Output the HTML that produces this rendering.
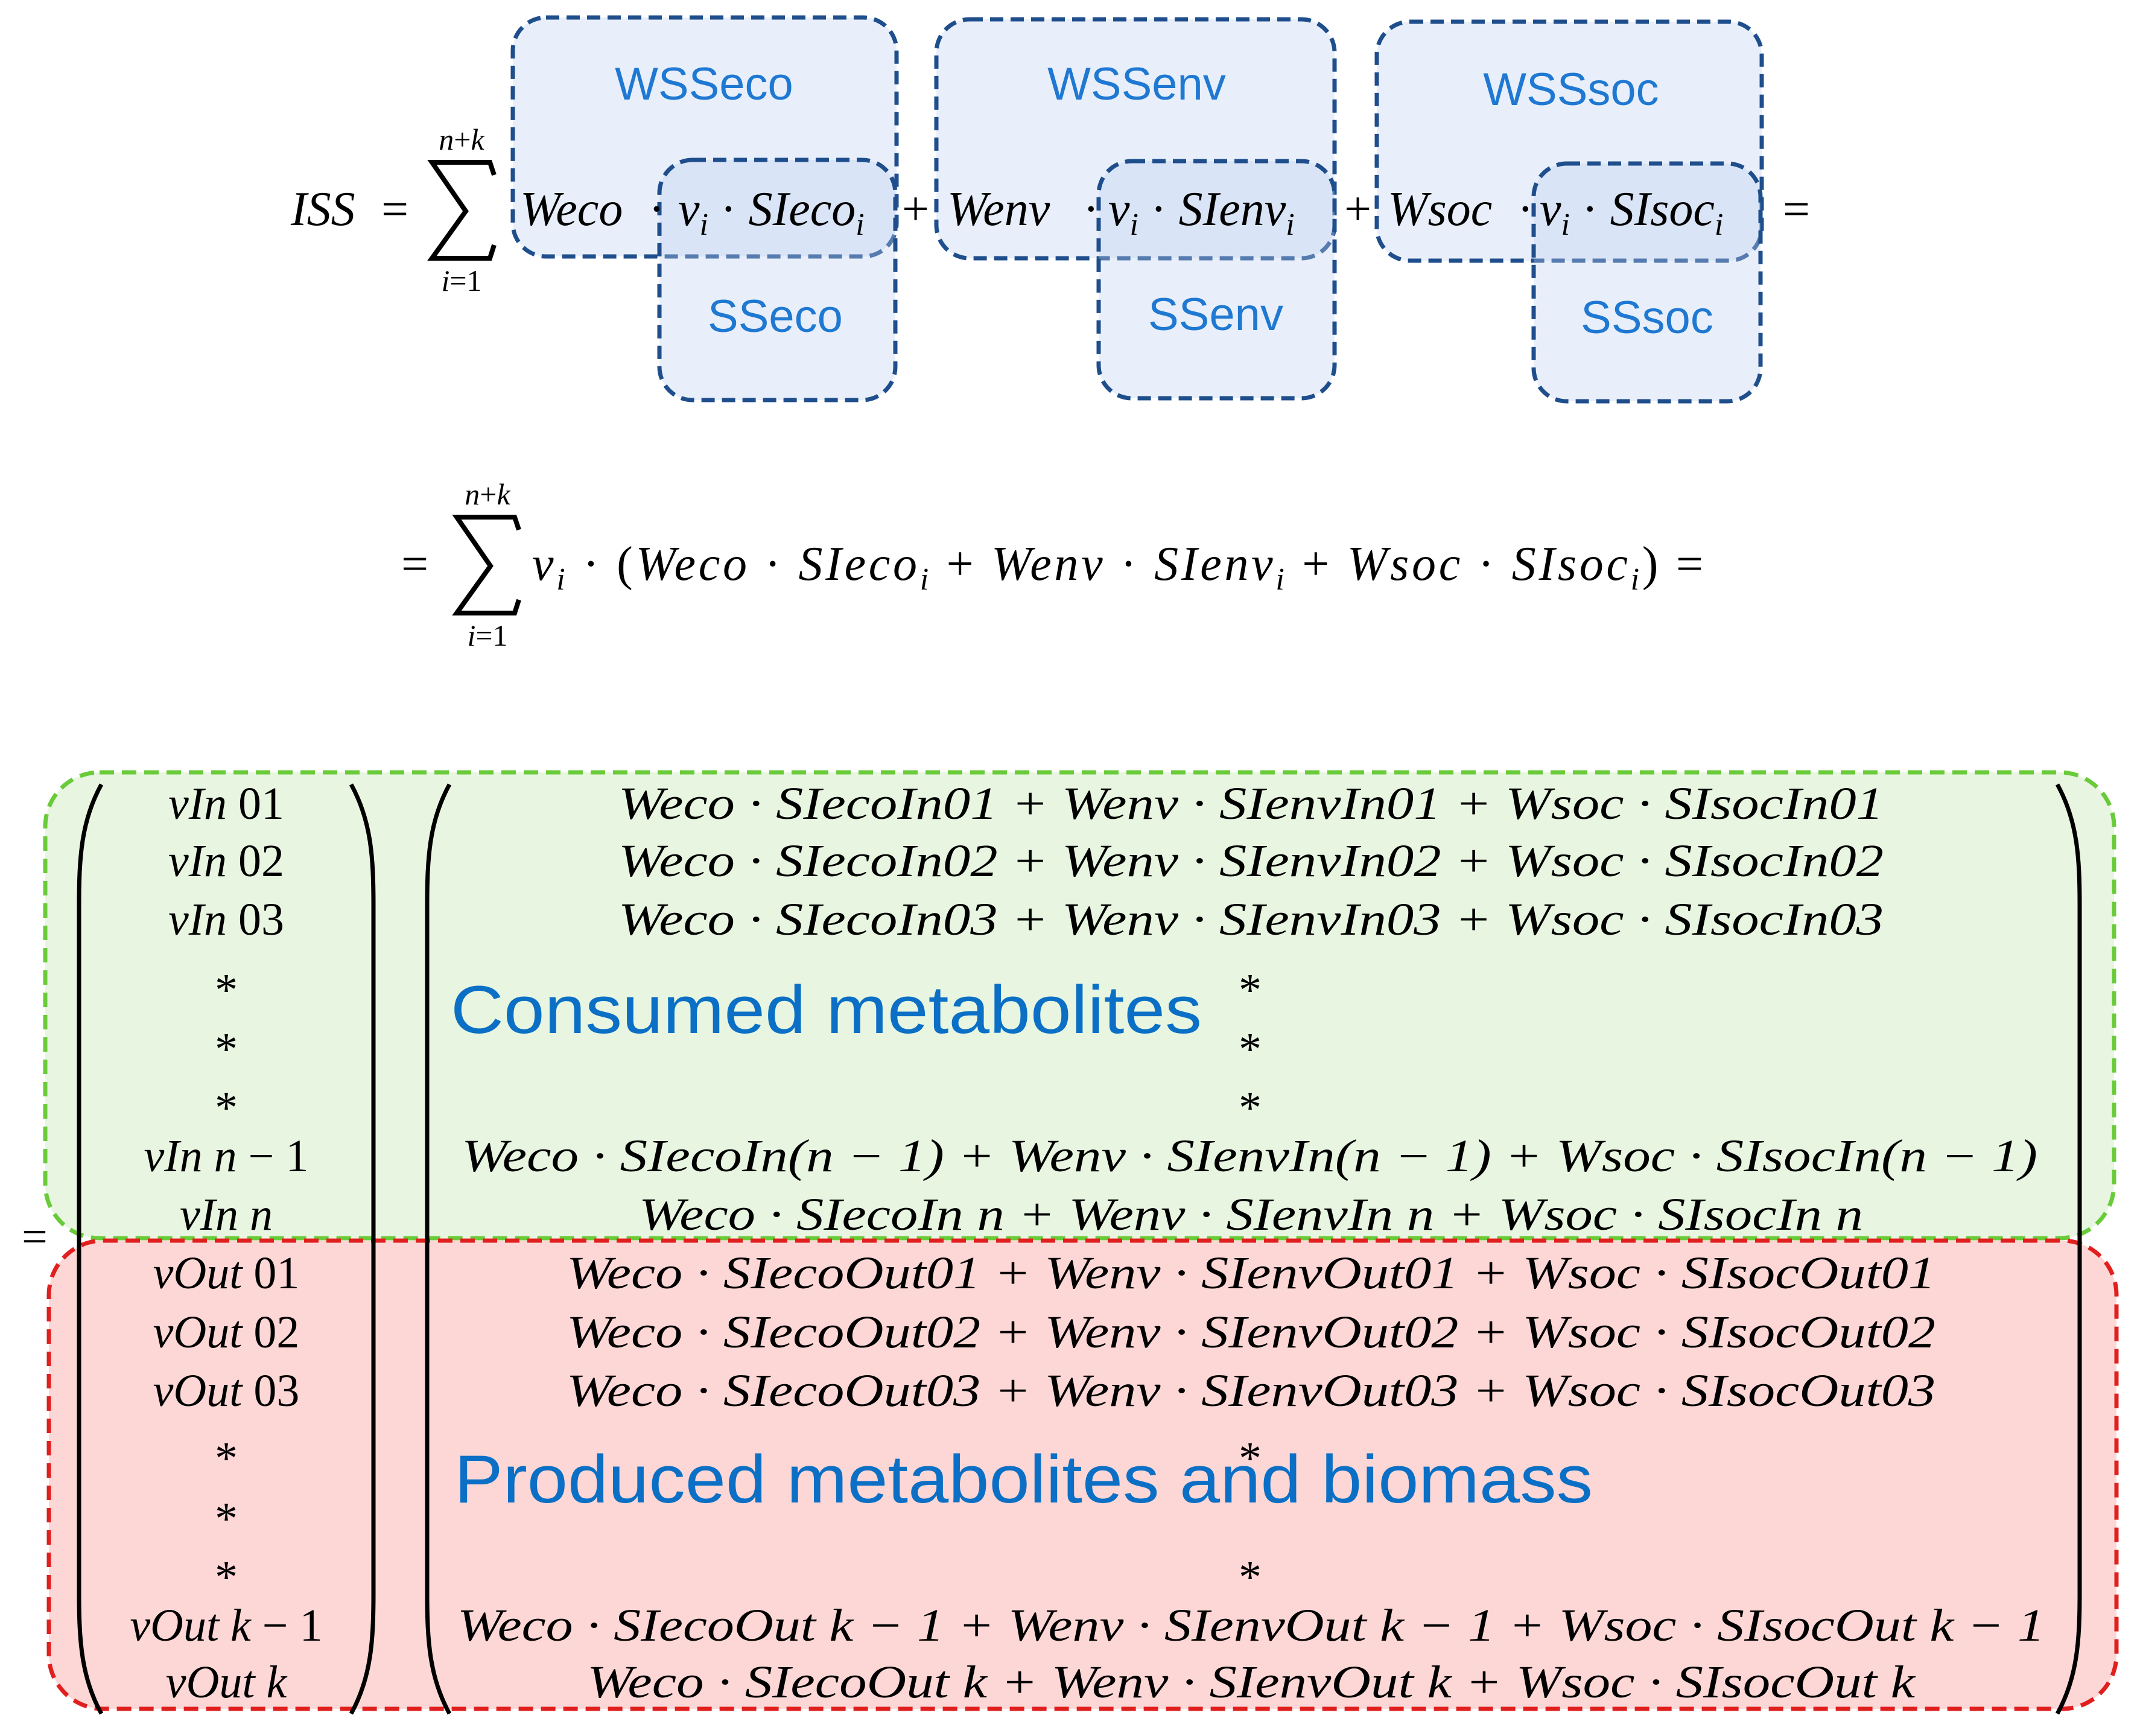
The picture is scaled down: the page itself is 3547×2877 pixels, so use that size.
<!DOCTYPE html>
<html><head><meta charset="utf-8"><style>
html,body{margin:0;padding:0;background:#fff}
svg{display:block}
.m{font-family:"Liberation Serif",serif;font-style:italic;fill:#000}
.u{font-family:"Liberation Serif",serif;fill:#000}
.lab{font-family:"Liberation Sans",sans-serif;fill:#1f78d1}
</style></head><body>
<svg width="3547" height="2877" viewBox="0 0 3547 2877" xmlns="http://www.w3.org/2000/svg">
<g fill="rgba(190,208,242,0.35)" stroke="#1f4e8c" stroke-width="7" stroke-dasharray="22 12">
<rect x="850" y="29" width="636" height="396" rx="55"/>
<rect x="1093" y="265" width="391" height="398" rx="55"/>
<rect x="1552" y="32" width="660" height="396" rx="55"/>
<rect x="1821" y="267" width="391" height="393" rx="55"/>
<rect x="2282" y="36" width="638" height="396" rx="55"/>
<rect x="2542" y="271" width="376" height="394" rx="55"/>
</g>
<g class="lab" font-size="76" text-anchor="middle">
<text x="1167" y="165">WSSeco</text>
<text x="1285" y="550">SSeco</text>
<text x="1884" y="165">WSSenv</text>
<text x="2015" y="547">SSenv</text>
<text x="2604" y="174">WSSsoc</text>
<text x="2730" y="552">SSsoc</text>
</g>
<!-- sigma shapes -->
<g fill="none" stroke="#000" stroke-width="8" stroke-linejoin="miter">
<path d="M819 290 L812 269 L716 269 L772 350 L716 428 L812 428 L819 406"/>
<path d="M860 878 L853 857 L757 857 L813 938 L757 1016 L853 1016 L860 994"/>
</g>
<!-- equation 1 -->
<g font-size="80">
<text class="m" x="482" y="373">ISS</text>
<text class="u" x="632" y="373">=</text>
<text class="m" x="765" y="248" font-size="50" text-anchor="middle">n<tspan font-style="normal">+</tspan>k</text>
<text class="m" x="765" y="482" font-size="50" text-anchor="middle">i<tspan font-style="normal">=1</tspan></text>
<text class="m" x="862" y="373">Weco</text>
<text class="u" x="1075" y="373">·</text>
<text class="m" x="1124" y="373">v<tspan font-size="52" dy="16">i</tspan><tspan dy="-16" font-style="normal"> · </tspan>SIeco<tspan font-size="52" dy="16">i</tspan></text>
<text class="u" x="1495" y="373">+</text>
<text class="m" x="1570" y="373">Wenv</text>
<text class="u" x="1795" y="373">·</text>
<text class="m" x="1837" y="373">v<tspan font-size="52" dy="16">i</tspan><tspan dy="-16" font-style="normal"> · </tspan>SIenv<tspan font-size="52" dy="16">i</tspan></text>
<text class="u" x="2228" y="373">+</text>
<text class="m" x="2300" y="373">Wsoc</text>
<text class="u" x="2515" y="373">·</text>
<text class="m" x="2552" y="373">v<tspan font-size="52" dy="16">i</tspan><tspan dy="-16" font-style="normal"> · </tspan>SIsoc<tspan font-size="52" dy="16">i</tspan></text>
<text class="u" x="2955" y="373">=</text>
</g>
<!-- equation 2 -->
<g font-size="80">
<text class="u" x="665" y="961">=</text>
<text class="m" x="808" y="836" font-size="50" text-anchor="middle">n<tspan font-style="normal">+</tspan>k</text>
<text class="m" x="808" y="1070" font-size="50" text-anchor="middle">i<tspan font-style="normal">=1</tspan></text>
<text class="m" x="882" y="961" textLength="1941" lengthAdjust="spacing">v<tspan font-size="52" dy="16">i</tspan><tspan dy="-16" font-style="normal"> · (</tspan>Weco<tspan font-style="normal"> · </tspan>SIeco<tspan font-size="52" dy="16">i</tspan><tspan dy="-16" font-style="normal"> + </tspan>Wenv<tspan font-style="normal"> · </tspan>SIenv<tspan font-size="52" dy="16">i</tspan><tspan dy="-16" font-style="normal"> + </tspan>Wsoc<tspan font-style="normal"> · </tspan>SIsoc<tspan font-size="52" dy="16">i</tspan><tspan dy="-16" font-style="normal">) =</tspan></text>
</g>
<!-- boxes -->
<rect x="75" y="1280" width="3429" height="772" rx="90" fill="#e8f6e1" stroke="#6acb3a" stroke-width="7" stroke-dasharray="24 13"/>
<rect x="81" y="2056" width="3427" height="776" rx="90" fill="#fdd7d6" stroke="#e0201e" stroke-width="7" stroke-dasharray="24 13"/>
<!-- parens -->
<g fill="none" stroke="#000" stroke-width="7">
<path d="M168 1300 C135 1360 131 1420 131 1500 L131 2640 C131 2720 135 2780 168 2840"/>
<path d="M582 1300 C615 1360 619 1420 619 1500 L619 2640 C619 2720 615 2780 582 2840"/>
<path d="M745 1300 C712 1360 708 1420 708 1500 L708 2640 C708 2720 712 2780 745 2840"/>
<path d="M3410 1300 C3443 1360 3447 1420 3447 1500 L3447 2640 C3447 2720 3443 2780 3410 2840"/>
</g>
<text class="u" x="36" y="2075" font-size="76">=</text>
<g class="lab" font-size="112">
<text x="747" y="1712" textLength="1245" lengthAdjust="spacingAndGlyphs" style="fill:#0b70c5">Consumed metabolites</text>
<text x="753" y="2490" textLength="1887" lengthAdjust="spacingAndGlyphs" style="fill:#0b70c5">Produced metabolites and biomass</text>
</g>
<!-- left column -->
<g class="m" font-size="76" text-anchor="middle">
<text x="375" y="1357">vIn <tspan font-style="normal">01</tspan></text>
<text x="375" y="1452">vIn <tspan font-style="normal">02</tspan></text>
<text x="375" y="1549">vIn <tspan font-style="normal">03</tspan></text>
<text x="375" y="1666" font-style="normal">*</text>
<text x="375" y="1764" font-style="normal">*</text>
<text x="375" y="1861" font-style="normal">*</text>
<text x="375" y="1941">vIn n <tspan font-style="normal">− 1</tspan></text>
<text x="375" y="2038">vIn n</text>
<text x="375" y="2135">vOut <tspan font-style="normal">01</tspan></text>
<text x="375" y="2233">vOut <tspan font-style="normal">02</tspan></text>
<text x="375" y="2330">vOut <tspan font-style="normal">03</tspan></text>
<text x="375" y="2442" font-style="normal">*</text>
<text x="375" y="2542" font-style="normal">*</text>
<text x="375" y="2639" font-style="normal">*</text>
<text x="375" y="2719">vOut k <tspan font-style="normal">− 1</tspan></text>
<text x="375" y="2813">vOut k</text>
</g>
<!-- right column -->
<g class="m" font-size="76">
<text x="1025" y="1357" textLength="2097" lengthAdjust="spacingAndGlyphs">Weco · SIecoIn01 + Wenv · SIenvIn01 + Wsoc · SIsocIn01</text>
<text x="1025" y="1452" textLength="2097" lengthAdjust="spacingAndGlyphs">Weco · SIecoIn02 + Wenv · SIenvIn02 + Wsoc · SIsocIn02</text>
<text x="1025" y="1549" textLength="2097" lengthAdjust="spacingAndGlyphs">Weco · SIecoIn03 + Wenv · SIenvIn03 + Wsoc · SIsocIn03</text>
<text x="765" y="1941" textLength="2612" lengthAdjust="spacingAndGlyphs">Weco · SIecoIn(n − 1) + Wenv · SIenvIn(n − 1) + Wsoc · SIsocIn(n − 1)</text>
<text x="1059" y="2038" textLength="2029" lengthAdjust="spacingAndGlyphs">Weco · SIecoIn n + Wenv · SIenvIn n + Wsoc · SIsocIn n</text>
<text x="939" y="2135" textLength="2269" lengthAdjust="spacingAndGlyphs">Weco · SIecoOut01 + Wenv · SIenvOut01 + Wsoc · SIsocOut01</text>
<text x="939" y="2233" textLength="2269" lengthAdjust="spacingAndGlyphs">Weco · SIecoOut02 + Wenv · SIenvOut02 + Wsoc · SIsocOut02</text>
<text x="939" y="2330" textLength="2269" lengthAdjust="spacingAndGlyphs">Weco · SIecoOut03 + Wenv · SIenvOut03 + Wsoc · SIsocOut03</text>
<text x="758" y="2719" textLength="2631" lengthAdjust="spacingAndGlyphs">Weco · SIecoOut k − 1 + Wenv · SIenvOut k − 1 + Wsoc · SIsocOut k − 1</text>
<text x="973" y="2813" textLength="2201" lengthAdjust="spacingAndGlyphs">Weco · SIecoOut k + Wenv · SIenvOut k + Wsoc · SIsocOut k</text>
</g>
<g class="u" font-size="76" text-anchor="middle">
<text x="2072" y="1666">*</text>
<text x="2072" y="1764">*</text>
<text x="2072" y="1861">*</text>
<text x="2072" y="2442">*</text>
<text x="2072" y="2639">*</text>
</g>
</svg>
</body></html>
